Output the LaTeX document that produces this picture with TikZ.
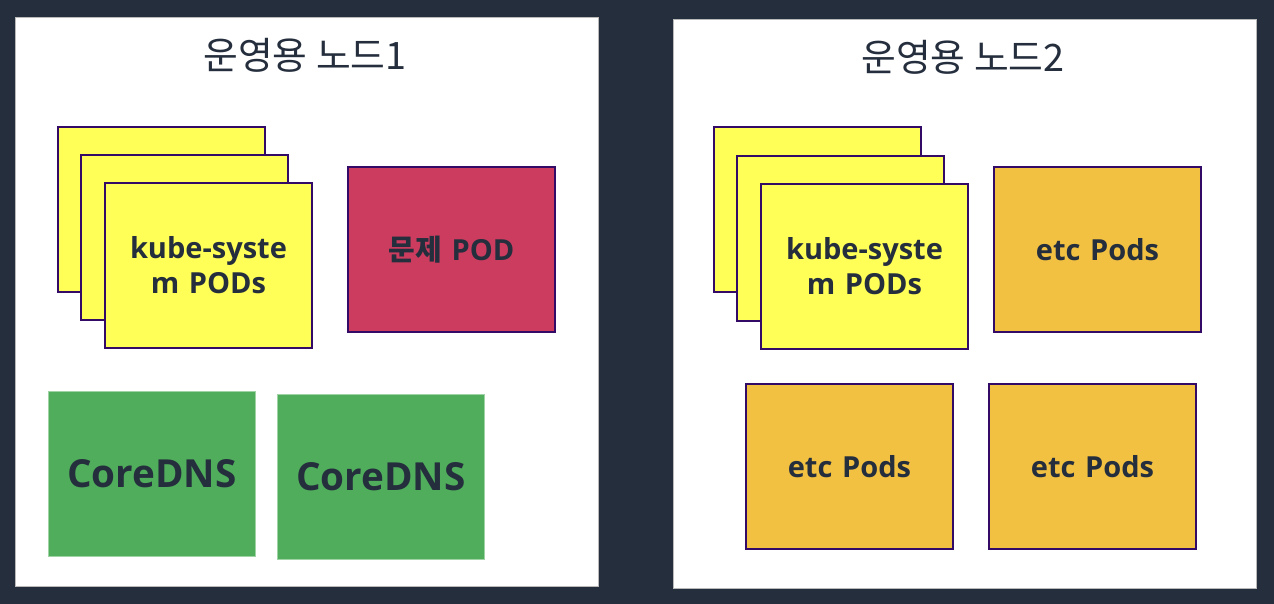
\documentclass[tikz,border=0pt]{standalone}
\usepackage{fontspec}
\setmainfont{Open Sans}
\newfontfamily\kr{Noto Sans CJK KR}
\definecolor{bgnavy}{HTML}{252E3D}
\definecolor{inkdark}{HTML}{252E3D}
\definecolor{podedge}{HTML}{330A66}
\definecolor{kubeyellow}{HTML}{FFFF57}
\definecolor{problemred}{HTML}{CC3C5F}
\definecolor{dnsgreen}{HTML}{50AD5C}
\definecolor{etcorange}{HTML}{F2C142}
\begin{document}
\begin{tikzpicture}[
    x=0.02cm, y=-0.02cm,
    panel/.style={rectangle, draw=gray!55, line width=0.5pt, fill=white, anchor=north west, minimum width=11.66cm, minimum height=11.38cm, inner sep=0pt},
    title/.style={text=inkdark, font=\kr\fontsize{21.5}{25}\selectfont},
    card/.style={rectangle, draw=podedge, line width=1.1pt, anchor=north west, minimum width=4.14cm, minimum height=3.3cm, inner sep=0pt, text width=3.9cm, align=center, text=inkdark, font=\fontsize{16.5}{20}\selectfont\bfseries},
    kube/.style={card, fill=kubeyellow},
    problem/.style={card, fill=problemred},
    etc/.style={card, fill=etcorange},
    dns/.style={card, draw=dnsgreen!55!white, line width=0.5pt, fill=dnsgreen, font=\fontsize{22}{26}\selectfont\bfseries}
]
% Background
\fill[bgnavy] (0,0) rectangle (1274,604);
\useasboundingbox (0,0) rectangle (1274,604);

% Panels
\node (node1) [panel] at (15,17) {};
\node (node2) [panel] at (673,19) {};
\node (title1) [title] at (305,55) {운영용 노드1};
\node (title2) [title] at (963,57) {운영용 노드2};

% Node 1 pods
\node (kube1a) [kube] at (57,126) {};
\node (kube1b) [kube] at (80,154) {};
\node (kube1c) [kube] at (104,182) {kube-syste\\m PODs};
\node (problem) [problem] at (347,166) {{\kr 문제} POD};
\node (dns1) [dns] at (48,391) {CoreDNS};
\node (dns2) [dns] at (277,394) {CoreDNS};

% Node 2 pods
\node (kube2a) [kube] at (713,126) {};
\node (kube2b) [kube] at (736,155) {};
\node (kube2c) [kube] at (760,183) {kube-syste\\m PODs};
\node (etc1) [etc] at (993,166) {etc Pods};
\node (etc2) [etc] at (745,383) {etc Pods};
\node (etc3) [etc] at (988,383) {etc Pods};

\end{tikzpicture}
\end{document}
